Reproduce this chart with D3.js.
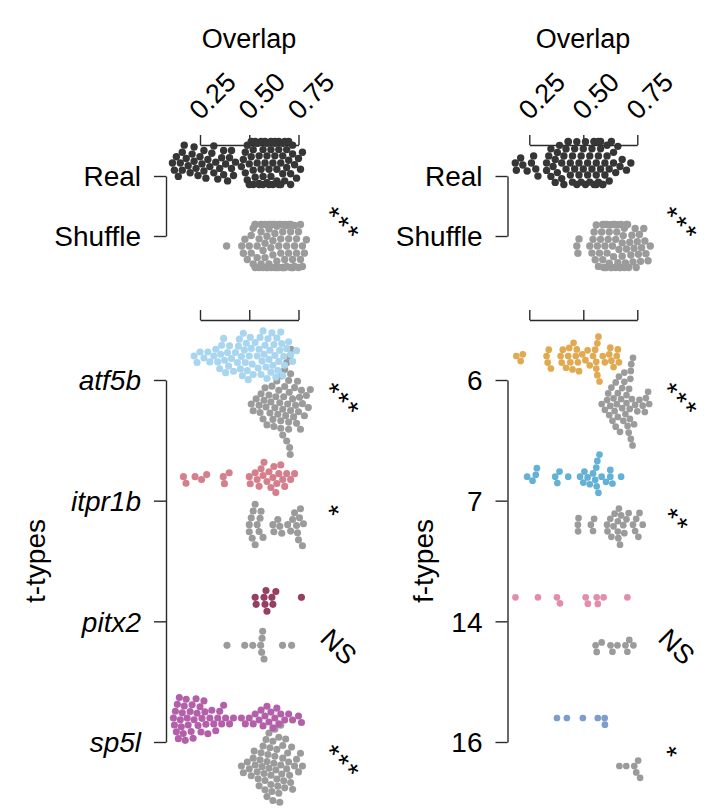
<!DOCTYPE html>
<html><head><meta charset="utf-8">
<script src="https://cdn.jsdelivr.net/npm/d3@7"></script>
<style>
body{margin:0;background:#fff}
svg text{font-family:"Liberation Sans",Arial,Helvetica,sans-serif;fill:#000}
</style>
</head><body>
<svg id="chart" width="705" height="812"></svg>
<script>
// ---------------- data ----------------
const xTicks = [0.25, 0.50, 0.75];
const topCats = ["Real", "Shuffle"];
const tTypes = ["atf5b", "itpr1b", "pitx2", "sp5l"];
const fTypes = ["6", "7", "14", "16"];
const topSig = "***";
const tSig = ["***", "*", "NS", "***"];
const fSig = ["***", "**", "NS", "*"];

// top panels: overlap of real vs shuffled
const tReal = [0.11,0.12,0.13,0.14,0.15,0.16,0.16,0.17,0.18,0.19,0.20,0.21,0.22,0.22,0.23,0.24,0.25,0.26,0.27,0.27,0.28,0.29,0.30,0.31,0.32,0.32,0.33,0.34,0.35,0.36,0.37,0.37,0.38,0.39,0.40,0.41,0.41,0.42,0.43,0.46,0.47,0.48,0.48,0.49,0.49,0.50,0.50,0.51,0.51,0.52,0.52,0.52,0.53,0.53,0.54,0.54,0.55,0.55,0.55,0.56,0.56,0.57,0.57,0.57,0.58,0.58,0.59,0.59,0.59,0.60,0.60,0.61,0.61,0.61,0.62,0.62,0.63,0.63,0.63,0.64,0.64,0.65,0.65,0.65,0.66,0.66,0.67,0.67,0.67,0.68,0.68,0.69,0.69,0.70,0.70,0.71,0.71,0.72,0.72,0.73,0.74,0.75,0.76,0.77];
const tShuffle = [0.385,0.462,0.47,0.478,0.49,0.50,0.51,0.51,0.52,0.52,0.53,0.53,0.53,0.54,0.54,0.55,0.55,0.56,0.56,0.56,0.57,0.57,0.57,0.58,0.58,0.58,0.59,0.59,0.59,0.60,0.60,0.60,0.61,0.61,0.61,0.62,0.62,0.62,0.63,0.63,0.63,0.64,0.64,0.64,0.65,0.65,0.65,0.66,0.66,0.66,0.67,0.67,0.67,0.68,0.68,0.68,0.69,0.69,0.69,0.70,0.70,0.70,0.71,0.71,0.71,0.72,0.72,0.72,0.73,0.73,0.73,0.74,0.74,0.75,0.75,0.76,0.76,0.77,0.77,0.78,0.79];
const fReal = [0.185,0.19,0.21,0.22,0.24,0.26,0.27,0.28,0.29,0.33,0.33,0.34,0.35,0.35,0.36,0.37,0.37,0.38,0.38,0.39,0.40,0.40,0.41,0.41,0.42,0.42,0.43,0.43,0.44,0.44,0.45,0.45,0.46,0.46,0.47,0.47,0.48,0.48,0.49,0.49,0.50,0.50,0.51,0.51,0.52,0.52,0.53,0.53,0.54,0.54,0.55,0.55,0.55,0.56,0.56,0.56,0.57,0.57,0.57,0.58,0.58,0.58,0.59,0.59,0.60,0.60,0.61,0.61,0.62,0.62,0.63,0.64,0.64,0.65,0.66,0.67,0.68,0.70,0.72];
const fShuffle = [0.47,0.475,0.48,0.53,0.54,0.545,0.55,0.555,0.56,0.565,0.57,0.575,0.58,0.585,0.59,0.59,0.595,0.60,0.60,0.605,0.61,0.61,0.615,0.62,0.62,0.625,0.63,0.63,0.635,0.64,0.64,0.645,0.65,0.65,0.655,0.66,0.66,0.665,0.67,0.67,0.675,0.68,0.68,0.685,0.69,0.69,0.695,0.70,0.70,0.705,0.71,0.715,0.72,0.725,0.73,0.735,0.74,0.745,0.75,0.755,0.76,0.765,0.77,0.78,0.785,0.79,0.80,0.81];

// t-types (type value, then shuffled)
const atf5b = [0.22,0.235,0.25,0.27,0.29,0.30,0.32,0.33,0.34,0.35,0.355,0.36,0.37,0.375,0.38,0.39,0.395,0.40,0.41,0.42,0.43,0.44,0.445,0.45,0.455,0.46,0.465,0.47,0.475,0.48,0.485,0.49,0.495,0.50,0.505,0.51,0.515,0.52,0.53,0.54,0.545,0.55,0.555,0.56,0.565,0.57,0.575,0.58,0.585,0.59,0.595,0.60,0.605,0.61,0.615,0.62,0.625,0.63,0.635,0.64,0.645,0.65,0.655,0.66,0.665,0.67,0.675,0.68,0.69,0.70,0.71,0.72,0.74];
const atf5bShuf = [0.51,0.52,0.535,0.55,0.555,0.56,0.57,0.575,0.58,0.585,0.59,0.60,0.605,0.61,0.615,0.62,0.625,0.63,0.635,0.64,0.645,0.65,0.655,0.66,0.66,0.665,0.67,0.67,0.675,0.68,0.68,0.685,0.69,0.69,0.695,0.70,0.70,0.70,0.703,0.705,0.705,0.708,0.71,0.71,0.712,0.72,0.725,0.73,0.735,0.74,0.745,0.75,0.755,0.76,0.765,0.77,0.78,0.79,0.80,0.81];
const itpr1b = [0.166,0.179,0.225,0.258,0.284,0.368,0.374,0.398,0.50,0.505,0.53,0.54,0.55,0.56,0.57,0.575,0.59,0.60,0.61,0.62,0.625,0.635,0.64,0.65,0.66,0.67,0.68,0.69,0.71,0.73];
const itpr1bShuf = [0.50,0.50,0.51,0.515,0.52,0.53,0.53,0.54,0.55,0.555,0.56,0.57,0.62,0.625,0.645,0.655,0.665,0.695,0.71,0.72,0.73,0.74,0.745,0.75,0.755,0.76,0.77,0.775];
const pitx2 = [0.53,0.535,0.575,0.58,0.585,0.59,0.615,0.62,0.635,0.765];
const pitx2Shuf = [0.387,0.477,0.518,0.558,0.563,0.565,0.568,0.575,0.669,0.715];
const sp5l = [0.115,0.12,0.125,0.13,0.135,0.14,0.145,0.15,0.155,0.16,0.165,0.17,0.175,0.18,0.185,0.19,0.20,0.205,0.21,0.215,0.22,0.23,0.235,0.24,0.25,0.255,0.26,0.27,0.275,0.28,0.29,0.30,0.31,0.32,0.33,0.34,0.35,0.36,0.37,0.38,0.40,0.42,0.46,0.48,0.50,0.52,0.53,0.55,0.56,0.57,0.58,0.59,0.60,0.61,0.62,0.63,0.64,0.65,0.66,0.68,0.70,0.72,0.75,0.765];
const sp5lShuf = [0.46,0.47,0.49,0.50,0.51,0.52,0.525,0.53,0.54,0.545,0.55,0.555,0.56,0.565,0.57,0.575,0.58,0.58,0.585,0.59,0.59,0.595,0.60,0.60,0.605,0.61,0.61,0.615,0.62,0.62,0.625,0.63,0.63,0.635,0.64,0.64,0.645,0.65,0.65,0.655,0.66,0.66,0.665,0.67,0.67,0.675,0.68,0.685,0.69,0.695,0.70,0.705,0.71,0.715,0.72,0.73,0.74,0.75,0.76,0.77];

// f-types
const f6 = [0.19,0.21,0.22,0.33,0.335,0.34,0.35,0.395,0.40,0.405,0.42,0.43,0.435,0.44,0.45,0.455,0.465,0.47,0.475,0.48,0.495,0.51,0.52,0.53,0.545,0.555,0.56,0.56,0.565,0.565,0.57,0.575,0.59,0.60,0.62,0.625,0.63,0.64,0.655,0.66,0.665];
const f6Shuf = [0.585,0.60,0.61,0.615,0.62,0.625,0.63,0.635,0.64,0.645,0.65,0.65,0.655,0.66,0.66,0.665,0.67,0.675,0.68,0.68,0.685,0.69,0.69,0.695,0.70,0.70,0.705,0.71,0.712,0.715,0.716,0.718,0.72,0.72,0.722,0.725,0.728,0.73,0.735,0.74,0.75,0.76,0.775,0.785,0.79,0.80,0.805];
const f7 = [0.24,0.265,0.28,0.285,0.37,0.38,0.39,0.43,0.485,0.50,0.505,0.52,0.53,0.545,0.555,0.56,0.562,0.565,0.57,0.575,0.585,0.605,0.625,0.625,0.635,0.675];
const f7Shuf = [0.475,0.476,0.478,0.535,0.545,0.55,0.61,0.612,0.625,0.63,0.64,0.645,0.66,0.66,0.662,0.665,0.67,0.675,0.685,0.69,0.70,0.71,0.73,0.74,0.745,0.755,0.76,0.775];
const f14 = [0.186,0.29,0.378,0.392,0.511,0.521,0.562,0.567,0.594,0.704];
const f14Shuf = [0.557,0.562,0.585,0.626,0.635,0.658,0.695,0.704,0.713,0.732];
const f16 = [0.378,0.424,0.498,0.567,0.599,0.60];
const f16Shuf = [0.667,0.699,0.736,0.745,0.754,0.763];

// ---------------- styles ----------------
const C = {
  real: "#363636", shuf: "#9b9b9b",
  atf5b: "#a8d5ef", itpr1b: "#d57f8c", pitx2: "#963f62", sp5l: "#b45fa9",
  f6: "#e1a950", f7: "#63b1d4", f14: "#e28ea9", f16: "#7d9ecc"
};
const AX = "#2a2a2a";

const svg = d3.select("#chart");

// deterministic beeswarm (seaborn style): sort by value, nearest free offset, clamp to gutter
function swarm(values, x, r, limit) {
  const d = 2 * r;
  const pts = values.map(v => ({ v, x: x(v) })).sort((a, b) => a.x - b.x);
  const placed = [];
  for (const p of pts) {
    const nb = placed.filter(q => Math.abs(q.x - p.x) < d);
    const cands = [0];
    nb.forEach(q => {
      const dy = Math.sqrt(d * d - (q.x - p.x) ** 2);
      cands.push(q.y + dy, q.y - dy);
    });
    cands.sort((a, b) => Math.abs(a) - Math.abs(b));
    p.y = cands.find(c => nb.every(q => (q.x - p.x) ** 2 + (q.y - c) ** 2 >= d * d - 1e-6));
    placed.push(p);
  }
  pts.forEach(p => { if (Math.abs(p.y) > limit) p.y = Math.sign(p.y) * limit; });
  return pts;
}

function drawSwarm(values, x, cy, r, limit, color) {
  const pts = swarm(values, x, r, limit);
  svg.append("g").selectAll("circle").data(pts).join("circle")
    .attr("cx", p => p.x).attr("cy", p => cy + p.y).attr("r", r)
    .attr("fill", color);
}

function xAxis(x, y, withLabels) {
  const g = svg.append("g").attr("transform", `translate(0,${y})`)
    .call(d3.axisTop(x).tickValues(xTicks).tickSize(10).tickSizeOuter(0).tickFormat(""));
  g.select(".domain").attr("stroke", AX).attr("stroke-width", 1.4);
  g.selectAll(".tick line").attr("stroke", AX).attr("stroke-width", 1.4);
  if (withLabels) {
    g.selectAll(".tick").append("text")
      .attr("transform", "translate(0,-24) rotate(-45)")
      .attr("text-anchor", "start")
      .style("font-size", "27px")
      .text(d => d3.format(".2f")(d));
  }
}

function yAxis(y, xPos, italic) {
  const g = svg.append("g").attr("transform", `translate(${xPos},0)`)
    .call(d3.axisLeft(y).tickSize(12).tickSizeOuter(0).tickPadding(13));
  g.attr("font-family", null).attr("font-size", null);
  g.select(".domain").attr("stroke", AX).attr("stroke-width", 1.4);
  g.selectAll(".tick line").attr("stroke", AX).attr("stroke-width", 1.4);
  g.selectAll(".tick text").style("font-size", "28px")
    .style("font-style", italic ? "italic" : "normal").attr("dy", "0.35em");
}

function sig(txt, cx, cy) {
  const isStar = txt.indexOf("*") >= 0;
  svg.append("text")
    .attr("transform", `translate(${cx},${cy}) rotate(45)`)
    .attr("text-anchor", "middle")
    .attr("dy", isStar ? "0.62em" : "0.36em")
    .style("font-size", isStar ? "28px" : "27px")
    .style("letter-spacing", isStar ? "2.5px" : "0px")
    .text(txt);
}

const panels = [
  { x: d3.scaleLinear().domain([0.25, 0.75]).range([200, 298.5]), axisX: 166, titleX: 249,
    real: tReal, shuf: tShuffle, cats: tTypes, italic: true, sig: tSig, sigX: 347, yTitle: "t-types", yTitleX: 45,
    groups: [[atf5b, atf5bShuf, C.atf5b], [itpr1b, itpr1bShuf, C.itpr1b], [pitx2, pitx2Shuf, C.pitx2], [sp5l, sp5lShuf, C.sp5l]], r: 3.55 },
  { x: d3.scaleLinear().domain([0.25, 0.75]).range([529.3, 637.3]), axisX: 507.5, titleX: 583,
    real: fReal, shuf: fShuffle, cats: fTypes, italic: false, sig: fSig, sigX: 685, yTitle: "f-types", yTitleX: 433,
    groups: [[f6, f6Shuf, C.f6], [f7, f7Shuf, C.f7], [f14, f14Shuf, C.f14], [f16, f16Shuf, C.f16]], r: 3.35 }
];

panels.forEach(P => {
  // title
  svg.append("text").attr("x", P.titleX).attr("y", 48).attr("text-anchor", "middle")
    .style("font-size", "27px").text("Overlap");
  xAxis(P.x, 145, true);
  xAxis(P.x, 320, false);

  // top: Real vs Shuffle
  const yTop = d3.scalePoint().domain(topCats).range([176, 236]);
  yAxis(yTop, P.axisX, false);
  drawSwarm(P.real, P.x, yTop("Real") - 13, 3.7, 21.5, C.real);
  drawSwarm(P.shuf, P.x, yTop("Shuffle") + 10, 3.7, 21.5, C.shuf);
  sig(topSig, P.sigX, 220);

  // bottom: types
  const yB = d3.scalePoint().domain(P.cats).range([380, 742]);
  yAxis(yB, P.axisX, P.italic);
  P.groups.forEach((gr, i) => {
    const c = P.cats[i];
    drawSwarm(gr[1], P.x, yB(c) + 24, P.r, 200, C.shuf);
    drawSwarm(gr[0], P.x, yB(c) - 24, P.r, 200, gr[2]);
    const s = P.sig[i];
    const dx = s === "*" ? -10 : (s === "**" ? -4 : (s === "NS" ? -8 : 0));
    sig(s, P.sigX + dx, yB(c) + (s === "NS" ? 25 : (s === "*" ? 8 : 16)));
  });

  // y title
  svg.append("text").attr("transform", `translate(${P.yTitleX},561) rotate(-90)`)
    .attr("text-anchor", "middle").style("font-size", "28px").text(P.yTitle);
});
</script>
</body></html>
